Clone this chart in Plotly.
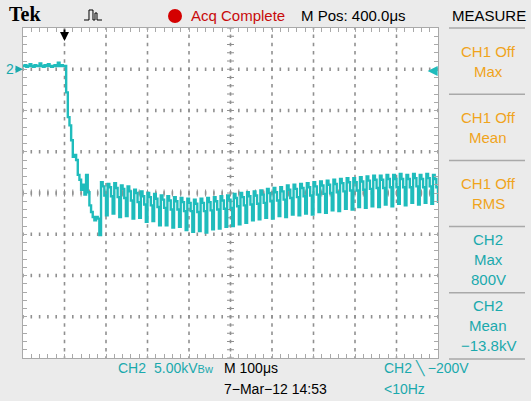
import numpy as np
import plotly.graph_objects as go

W, H = 531, 401

# ---------------- CH2 acquisition record (kV) ----------------
SAMPLE_US = 4.0          # record sample interval
T_START_US = -100.0      # left edge of the screen, trigger at 0
TIME_PER_DIV_US = 100.0
VOLTS_PER_DIV_KV = 5.0

pre_trigger_kv = [0.4, 0.5, 0.3, 0.4, 0.6, 0.4, 0.3, 0.5, 0.4, 0.4, 0.7, 0.4, 0.3,
                  0.5, 0.4, 0.6, 0.4, 0.3, 0.4, 0.5, 0.4, 0.8, 0.4, 0.5, 0.4, 0.4]

fall_kv = [-2.8, -5.8, -6.8, -8.6, -10.6, -10.4, -11.0, -12.8, -13.4, -14.6, -14.0,
           -15.2, -12.8, -14.9, -16.5, -17.3, -17.9, -18.3, -17.9, -18.1, -20.1]

ringing_kv = [
    -13.7, -14.2, -15.3, -17.7,
    -13.9, -14.3, -15.4, -17.5,
    -13.8, -14.4, -15.5, -17.9,
    -14.1, -14.5, -15.6, -17.8,
    -14.2, -14.8, -15.9, -18.1,
    -14.6, -15.0, -16.1, -18.0,
    -14.8, -15.4, -16.4, -18.5,
    -15.0, -15.5, -16.5, -18.4,
    -15.1, -15.7, -16.7, -18.9,
    -15.3, -15.8, -16.8, -18.9,
    -15.4, -15.9, -17.0, -19.2,
    -15.5, -16.0, -17.0, -19.1,
    -15.6, -16.1, -17.2, -19.5,
    -15.7, -16.2, -17.2, -19.7,
    -15.8, -16.3, -17.3, -19.6,
    -15.7, -16.2, -17.2, -19.8,
    -15.6, -16.1, -17.1, -19.4,
    -15.5, -16.0, -17.0, -19.3,
    -15.4, -15.9, -16.9, -19.1,
    -15.3, -15.8, -16.8, -19.0,
    -15.1, -15.6, -16.6, -18.8,
    -15.0, -15.5, -16.5, -18.6,
    -14.9, -15.4, -16.4, -18.3,
    -14.8, -15.3, -16.3, -18.2,
    -14.7, -15.2, -16.2, -18.0,
    -14.5, -15.0, -16.0, -18.1,
    -14.4, -14.9, -15.9, -17.8,
    -14.3, -14.8, -15.8, -17.9,
    -14.1, -14.6, -15.6, -17.6,
    -14.0, -14.5, -15.5, -17.7,
    -13.9, -14.4, -15.4, -17.5,
    -13.8, -14.3, -15.3, -17.6,
    -13.7, -14.2, -15.2, -17.3,
    -13.6, -14.1, -15.1, -17.4,
    -13.5, -14.0, -15.0, -17.1,
    -13.4, -13.9, -14.9, -17.2,
    -13.3, -13.8, -14.8, -16.9,
    -13.2, -13.7, -14.7, -17.0,
    -13.2, -13.7, -14.7, -16.7,
    -13.1, -13.6, -14.6, -16.8,
    -13.0, -13.5, -14.5, -16.6,
    -12.9, -13.4, -14.4, -16.7,
    -12.9, -13.4, -14.4, -16.4,
    -12.8, -13.3, -14.3, -16.6,
    -12.8, -13.3, -14.3, -16.3,
    -12.7, -13.3, -14.3, -16.5,
    -12.8, -13.3, -14.3, -16.2,
    -12.7, -13.2, -14.2, -16.4,
    -12.8, -13.3, -14.3, -16.2,
    -12.7, -13.2, -14.2, -16.3,
    -12.8, -13.3, -14.3, -16.2,
]

trigger_level_kv = -0.2

# measurement panel contents
measure_boxes = [
    (["CH1 Off", "Max"], "orange"),
    (["CH1 Off", "Mean"], "orange"),
    (["CH1 Off", "RMS"], "orange"),
    (["CH2", "Max", "800V"], "cyan"),
    (["CH2", "Mean", "\u221213.8kV"], "cyan"),
]

# ---------------- styling ----------------
BG = "#ebebeb"
TRACE = "#1fbcbc"
CYAN_TXT = "#1aa9ad"
ORANGE_TXT = "#f0a41c"
RED_TXT = "#c80a0a"
GRID = "#909090"
FRAME = "#a9a9a9"
FONT = "Liberation Sans"

# graticule placement (pixels)
GX0, GX1 = 23, 438
GY0, GY1 = 28, 358


def px(x):
    return x / W


def py(y):
    return 1 - y / H


volts = np.array(pre_trigger_kv + fall_kv + ringing_kv)
times = T_START_US + SAMPLE_US * np.arange(len(volts))

x_range = [T_START_US, T_START_US + 10 * TIME_PER_DIV_US]
y_range = [VOLTS_PER_DIV_KV - 8 * VOLTS_PER_DIV_KV, VOLTS_PER_DIV_KV]
x_dom = [px(GX0), px(GX1)]
y_dom = [py(GY1), py(GY0)]

# graticule: dotted division lines and centre-cross subdivision marks
t_major = np.arange(x_range[0], x_range[1] + 1e-9, TIME_PER_DIV_US)
t_minor = np.arange(x_range[0], x_range[1] + 1e-9, TIME_PER_DIV_US / 5)
v_major = np.arange(y_range[0], y_range[1] + 1e-9, VOLTS_PER_DIV_KV)
v_minor = np.arange(y_range[0], y_range[1] + 1e-9, VOLTS_PER_DIV_KV / 5)
t_mid = (x_range[0] + x_range[1]) / 2
v_mid = (y_range[0] + y_range[1]) / 2

col_t = np.repeat(t_major[1:-1], len(v_minor))
col_v = np.tile(v_minor, len(t_major) - 2)
row_t = np.tile(t_minor, len(v_major) - 2)
row_v = np.repeat(v_major[1:-1], len(t_minor))

fig = go.Figure()
# vertical division lines (dots every subdivision)
fig.add_trace(go.Scatter(x=col_t, y=col_v, mode="markers", hoverinfo="skip",
                         marker=dict(symbol="line-ns", size=2.5,
                                     line=dict(color=GRID, width=1.6))))
# horizontal division lines
fig.add_trace(go.Scatter(x=row_t, y=row_v, mode="markers", hoverinfo="skip",
                         marker=dict(symbol="line-ns", size=2.5,
                                     line=dict(color=GRID, width=1.6))))
# centre cross subdivision marks
fig.add_trace(go.Scatter(x=t_minor, y=np.full(len(t_minor), v_mid), mode="markers",
                         hoverinfo="skip",
                         marker=dict(symbol="line-ns", size=5,
                                     line=dict(color=GRID, width=1))))
fig.add_trace(go.Scatter(x=np.full(len(v_minor), t_mid), y=v_minor, mode="markers",
                         hoverinfo="skip",
                         marker=dict(symbol="line-ew", size=5,
                                     line=dict(color=GRID, width=1))))
# CH2 waveform
fig.add_trace(go.Scatter(x=times, y=volts, mode="lines",
                         line=dict(color=TRACE, width=2.4, shape="hv"),
                         hoverinfo="skip"))

common = dict(showticklabels=False, zeroline=False, fixedrange=True, showgrid=False,
              ticks="inside", ticklen=4, tickcolor=FRAME, showline=True,
              linecolor=FRAME, linewidth=1, mirror="allticks")

fig.update_layout(
    width=W, height=H, margin=dict(l=0, r=0, t=0, b=0),
    paper_bgcolor=BG, plot_bgcolor="white", showlegend=False,
    xaxis=dict(domain=x_dom, range=x_range, tick0=0, dtick=TIME_PER_DIV_US / 5,
               **common),
    yaxis=dict(domain=y_dom, range=y_range, tick0=0, dtick=VOLTS_PER_DIV_KV / 5,
               **common),
)

annotations = []
shapes = []


def label(text, x, y, color="black", size=15, xanchor="center", family=FONT):
    annotations.append(dict(text=text, x=px(x), y=py(y), xref="paper", yref="paper",
                            xanchor=xanchor, yanchor="middle", showarrow=False,
                            font=dict(family=family, size=size, color=color)))


# header
label("<b>Tek</b>", 7, 14, size=20, xanchor="left", family="Liberation Serif")
label("Acq Complete", 189, 16, color=RED_TXT, size=15, xanchor="left")
label("M Pos: 400.0\u03bcs", 299, 16, size=15, xanchor="left")
label("MEASURE", 489, 16, size=15)

# footer
label("CH2", 116, 368, color=CYAN_TXT, size=14, xanchor="left")
label("5.00kV<span style='font-size:11px'>Bw</span>", 152, 368, color=CYAN_TXT,
      size=14, xanchor="left")
label("M 100\u03bcs", 222, 368, size=14, xanchor="left")
label("7\u2212Mar\u221212 14:53", 222, 389, size=14, xanchor="left")
label("CH2 \u2572 \u2212200V", 382, 368, color=CYAN_TXT, size=14, xanchor="left")
label("&lt;10Hz", 382, 389, color=CYAN_TXT, size=14, xanchor="left")

# measurement panel
box_edges = np.linspace(GY0, 359, len(measure_boxes) + 1)
for edge in box_edges:
    shapes.append(dict(type="line", xref="paper", yref="paper",
                       x0=px(449), x1=px(525), y0=py(edge), y1=py(edge),
                       line=dict(color=FRAME, width=1.5)))
for (lines, tone), top, bot in zip(measure_boxes, box_edges[:-1], box_edges[1:]):
    color = ORANGE_TXT if tone == "orange" else CYAN_TXT
    mid = (top + bot) / 2
    for k, txt in enumerate(lines):
        label(txt, 488, mid + (k - (len(lines) - 1) / 2) * 20, color=color, size=15)

# acquisition status dot and pulse icon
shapes.append(dict(type="circle", xref="paper", yref="paper",
                   x0=px(168), x1=px(182), y0=py(23), y1=py(9),
                   fillcolor="#d40000", line=dict(width=0)))
icon = [(84, 20), (89, 20), (89, 10), (93, 10), (93, 20), (95, 20), (95, 13),
        (97, 13), (97, 20), (102, 20)]
path = "M " + " L ".join(f"{px(a):.4f},{py(b):.4f}" for a, b in icon)
shapes.append(dict(type="path", xref="paper", yref="paper", path=path,
                   line=dict(color="black", width=1)))

# channel ground marker, trigger position and trigger level arrows
annotations.append(dict(x=x_range[0], y=0, xref="x", yref="y", text="2",
                        showarrow=True, ax=-13, ay=0, arrowhead=2, arrowsize=1,
                        arrowwidth=1.5, arrowcolor=CYAN_TXT,
                        font=dict(family=FONT, size=14, color=CYAN_TXT)))
annotations.append(dict(x=0, y=py(41), xref="x", yref="paper", text="",
                        showarrow=True, ax=0, ay=-13, arrowhead=2, arrowsize=0.9,
                        arrowwidth=2, arrowcolor="black"))
annotations.append(dict(x=x_range[1] - 25, y=trigger_level_kv, xref="x", yref="y",
                        text="", showarrow=True, ax=10, ay=0, arrowhead=2,
                        arrowsize=1, arrowwidth=2, arrowcolor=TRACE))

fig.update_layout(annotations=annotations, shapes=shapes)
fig.write_html("out.html")
